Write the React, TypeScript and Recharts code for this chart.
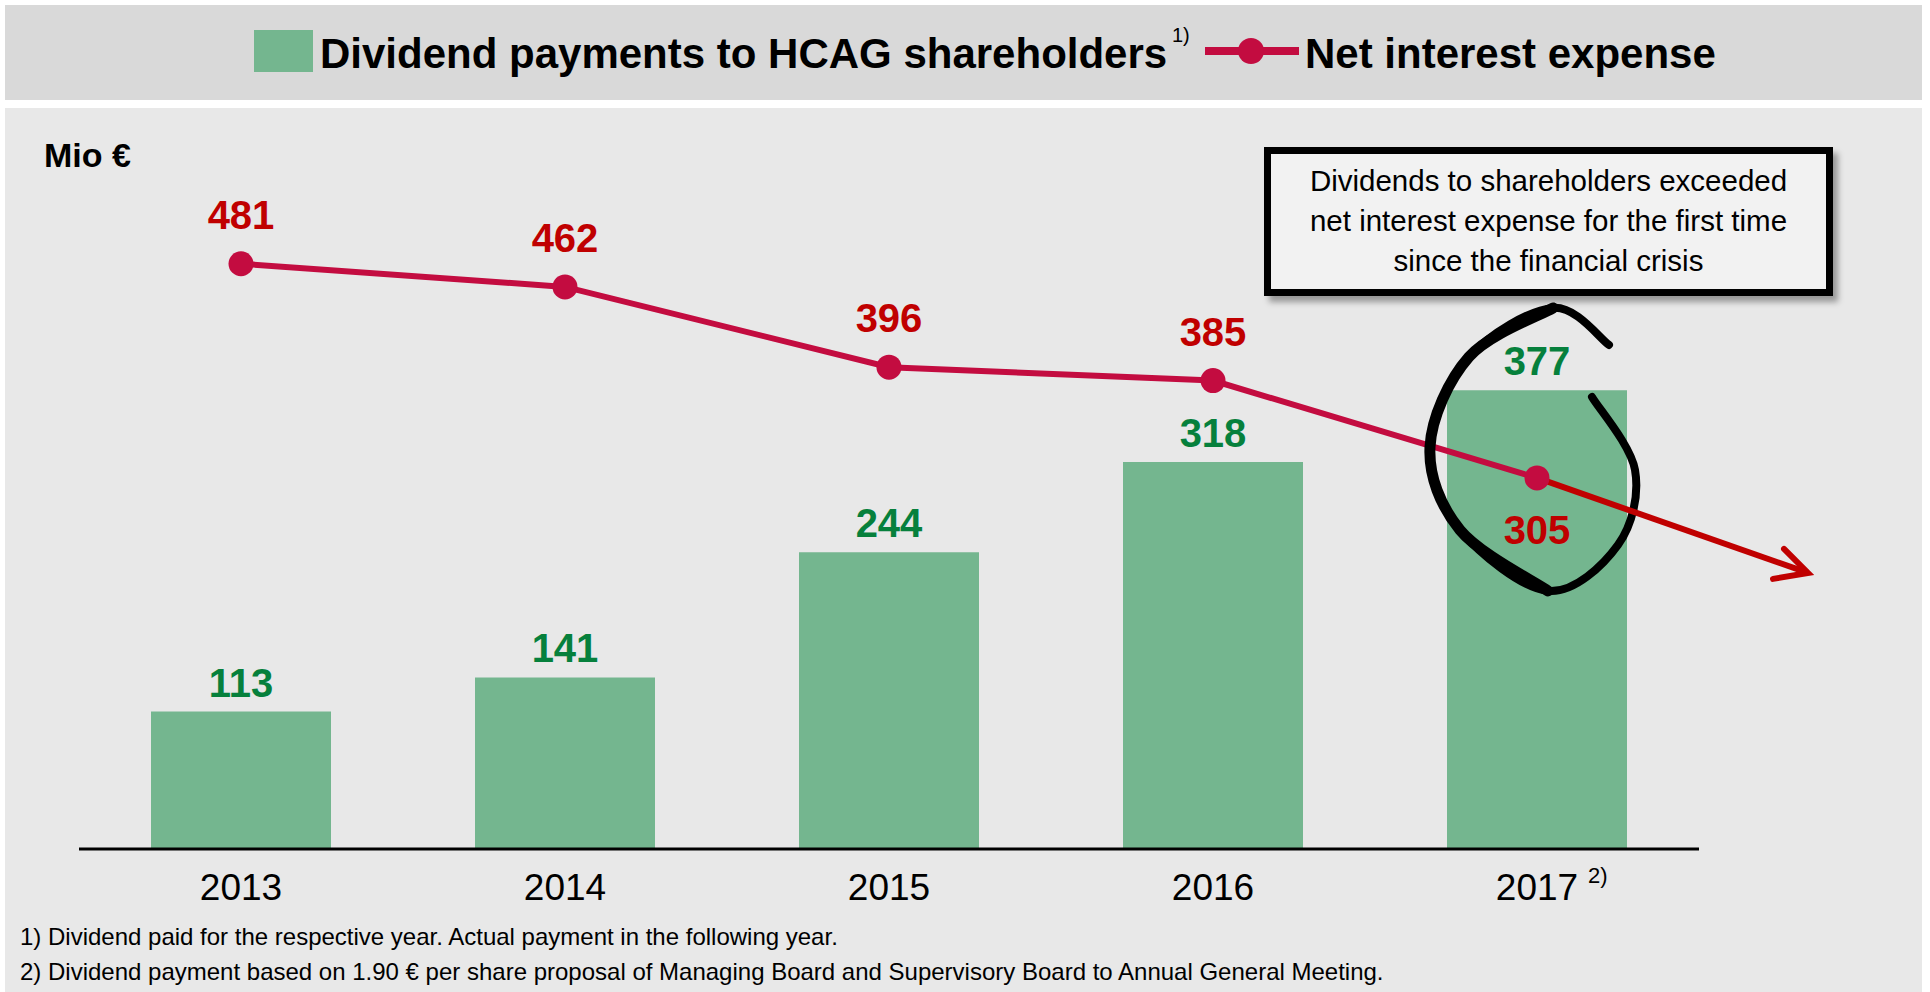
import { ComposedChart, Bar, Line, XAxis, YAxis, LabelList } from 'recharts'

const FONT = '"Liberation Sans", Arial, sans-serif'
const BAR_FILL = '#74b68f'
const LINE_COLOR = '#c30c40'
const RED_TEXT = '#c00000'
const GREEN_TEXT = '#06803c'

const years = ['2013', '2014', '2015', '2016', '2017']
const yearNotes = ['', '', '', '', '2)']
const dividends = [113, 141, 244, 318, 377]
const interest = [481, 462, 396, 385, 305]
const interestLabelSide = ['above', 'above', 'above', 'above', 'below']

const data = years.map((year, i) => ({
  year,
  dividend: dividends[i],
  interest: interest[i],
}))

// hand-drawn loop around the last point, relative to that point
const loopPoints: [number, number][] = [
  [72, -133],
  [16, -170],
  [-68, -121],
  [-107, -31],
  [-77, 52],
  [11, 113],
  [81, 67],
  [98, -8],
  [55, -81],
]

function smoothPath(pts: [number, number][], ox: number, oy: number) {
  const p = pts.map(([x, y]) => [x + ox, y + oy])
  let d = `M${p[0][0]},${p[0][1]}`
  for (let i = 0; i < p.length - 1; i++) {
    const p0 = p[i - 1] || p[i]
    const p1 = p[i]
    const p2 = p[i + 1]
    const p3 = p[i + 2] || p[i + 1]
    const c1 = [p1[0] + (p2[0] - p0[0]) / 6, p1[1] + (p2[1] - p0[1]) / 6]
    const c2 = [p2[0] - (p3[0] - p1[0]) / 6, p2[1] - (p3[1] - p1[1]) / 6]
    d += ` C${c1[0]},${c1[1]} ${c2[0]},${c2[1]} ${p2[0]},${p2[1]}`
  }
  return d
}

const YearTick = (props: any) => {
  const { x, y, payload } = props
  const i = years.indexOf(payload.value)
  return (
    <g>
      <text x={x} y={y + 51} textAnchor="middle" fontSize={37} fontFamily={FONT} fill="#000">
        {payload.value}
      </text>
      {yearNotes[i] && (
        <text x={x + 51} y={y + 34} fontSize={22} fontFamily={FONT} fill="#000">
          {yearNotes[i]}
        </text>
      )}
    </g>
  )
}

const DividendLabel = (props: any) => {
  const { x, y, width, value } = props
  return (
    <text x={x + width / 2} y={y - 15} textAnchor="middle" fontSize={40} fontWeight={700} fontFamily={FONT} fill={GREEN_TEXT}>
      {value}
    </text>
  )
}

const InterestLabel = (props: any) => {
  const { x, y, value } = props
  const i = props.index ?? interest.indexOf(value)
  const below = interestLabelSide[i] === 'below'
  return (
    <text x={x} y={below ? y + 66 : y - 35} textAnchor="middle" fontSize={40} fontWeight={700} fontFamily={FONT} fill={RED_TEXT}>
      {value}
    </text>
  )
}

const InterestDot = (props: any) => {
  const { cx, cy, index } = props
  if (cx == null || cy == null) return <g key={index} />
  const dot = <circle cx={cx} cy={cy} r={12.5} fill={LINE_COLOR} />
  if (index !== data.length - 1) return <g key={index}>{dot}</g>
  const tx = cx + 271
  const ty = cy + 95
  return (
    <g key={index}>
      <path d={smoothPath(loopPoints, cx, cy)} fill="none" stroke="#000" strokeWidth={8} strokeLinecap="round" />
      <path d={smoothPath(loopPoints.slice(1, 6), cx, cy)} fill="none" stroke="#000" strokeWidth={11} strokeLinecap="round" />
      <line x1={cx} y1={cy} x2={tx} y2={ty} stroke={RED_TEXT} strokeWidth={6} />
      <polyline
        points={`${tx - 24},${ty - 24} ${tx},${ty} ${tx - 35},${ty + 6}`}
        fill="none"
        stroke={RED_TEXT}
        strokeWidth={6}
        strokeLinecap="round"
      />
      {dot}
    </g>
  )
}

export default function App() {
  return (
    <div style={{ position: 'relative', width: 1930, height: 992, background: '#fff', fontFamily: FONT, overflow: 'hidden' }}>
      <style>{'body{margin:0}'}</style>
      <div style={{ position: 'absolute', left: 5, top: 5, width: 1917, height: 95, background: '#d9d9d9' }} />
      <div style={{ position: 'absolute', left: 5, top: 108, width: 1917, height: 884, background: '#e8e8e8' }} />

      <div style={{ position: 'absolute', left: 0, top: 0 }}>
        <ComposedChart width={1930} height={992} data={data} margin={{ top: 119, right: 231, bottom: 83, left: 79 }}>
          <XAxis
            dataKey="year"
            height={60}
            axisLine={{ stroke: '#000', strokeWidth: 3 }}
            tickLine={false}
            tickSize={0}
            tickMargin={0}
            tick={<YearTick />}
            interval={0}
          />
          <YAxis hide domain={[0, 600]} />
          <Bar dataKey="dividend" fill={BAR_FILL} barSize={180} isAnimationActive={false}>
            <LabelList dataKey="dividend" content={<DividendLabel />} />
          </Bar>
          <Line
            dataKey="interest"
            stroke={LINE_COLOR}
            strokeWidth={6}
            dot={<InterestDot />}
            activeDot={false}
            isAnimationActive={false}
          >
            <LabelList dataKey="interest" content={<InterestLabel />} />
          </Line>
        </ComposedChart>
      </div>

      <svg width={1930} height={992} style={{ position: 'absolute', left: 0, top: 0, pointerEvents: 'none' }}>
        <rect x={254} y={30} width={59} height={42} fill={BAR_FILL} />
        <text x={320} y={68} fontSize={42} fontWeight={700} fontFamily={FONT} fill="#000">
          Dividend payments to HCAG shareholders
        </text>
        <text x={1172} y={42} fontSize={20} fontFamily={FONT} fill="#000">
          1)
        </text>
        <line x1={1205} y1={51} x2={1299} y2={51} stroke={LINE_COLOR} strokeWidth={8} />
        <circle cx={1251} cy={51} r={13} fill={LINE_COLOR} />
        <text x={1305} y={68} fontSize={42} fontWeight={700} fontFamily={FONT} fill="#000">
          Net interest expense
        </text>

        <text x={44} y={167} fontSize={34} fontWeight={700} fontFamily={FONT} fill="#000">
          Mio €
        </text>

        <text x={20} y={945} fontSize={24} fontFamily={FONT} fill="#000">
          1) Dividend paid for the respective year. Actual payment in the following year.
        </text>
        <text x={20} y={980} fontSize={24} fontFamily={FONT} fill="#000">
          2) Dividend payment based on 1.90 € per share proposal of Managing Board and Supervisory Board to Annual General Meeting.
        </text>
      </svg>

      <div
        style={{
          position: 'absolute',
          left: 1264,
          top: 147,
          width: 569,
          height: 149,
          boxSizing: 'border-box',
          border: '7px solid #000',
          background: '#f2f2f2',
          boxShadow: '5px 6px 6px rgba(0,0,0,0.35)',
          paddingTop: 7,
          textAlign: 'center',
          fontSize: 29.5,
          lineHeight: '40px',
          color: '#000',
        }}
      >
        Dividends to shareholders exceeded
        <br />
        net interest expense for the first time
        <br />
        since the financial crisis
      </div>
    </div>
  )
}
